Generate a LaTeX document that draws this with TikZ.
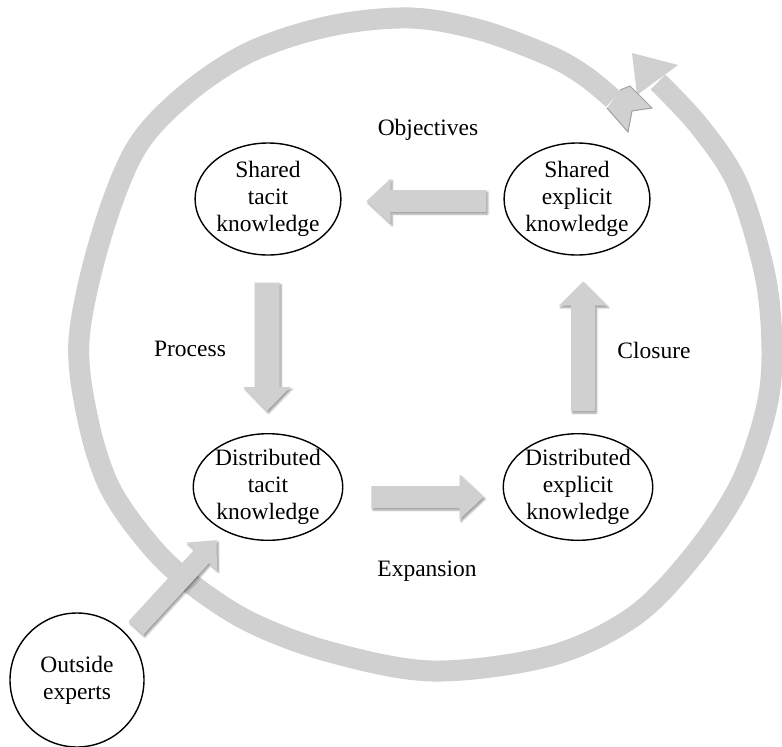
\documentclass[tikz,border=0pt]{standalone}
\usepackage{fontspec}
\setmainfont{Liberation Serif}
\usetikzlibrary{calc,shapes.geometric,shadows.blur}
\definecolor{bandgray}{RGB}{208,208,208}
\definecolor{tailedge}{RGB}{160,160,160}
\tikzset{
  knode/.style={ellipse, draw, line width=1.4pt, fill=white, align=center, inner sep=0pt,
     minimum width=138pt, minimum height=112pt, font=\fontsize{23.5}{27}\selectfont},
  onode/.style={circle, draw, line width=1.4pt, fill=white, align=center, inner sep=0pt,
     minimum size=134pt, font=\fontsize{23.5}{27}\selectfont},
  lbl/.style={font=\fontsize{23.5}{27}\selectfont, inner sep=0pt},
  arrowfill/.style={fill=bandgray, blur shadow={shadow xshift=1.5pt, shadow yshift=-2pt, shadow blur steps=6, shadow opacity=40}},
  band/.style={draw=bandgray, line width=21pt, line join=round},
}
\newcommand{\fatarrow}[5]{%
  \path (#1) coordinate (fa-a) (#2) coordinate (fa-b);
  \path ($(fa-b)!#5!(fa-a)$) coordinate (fa-h);
  \fill[arrowfill] ($(fa-a)!#3!90:(fa-b)$) -- ($(fa-h)!#3!90:(fa-b)$) -- ($(fa-h)!#4!90:(fa-b)$)
    -- (fa-b) -- ($(fa-h)!#4!-90:(fa-b)$) -- ($(fa-h)!#3!-90:(fa-b)$) -- ($(fa-a)!#3!-90:(fa-b)$) -- cycle;
}
\begin{document}
\begin{tikzpicture}[x=1pt,y=-1pt]
\useasboundingbox (0,0) rectangle (782,747);
% big loop
\draw[band] plot[smooth, tension=0.55] coordinates {
 (613,99) (585,76) (550,56) (480,30) (410,18) (330,26) (250,52) (185,95) (135,150)
 (100,240) (79,340) (88,420) (110,488) (150,545) (190,583) (250,622) (330,652)
 (433,671) (550,656) (633,617) (693,556) (740,485) (766,410) (772,350) (765,275)
 (738,185) (700,127) (658,82)};
% loop head
\fill[bandgray] (632,53) -- (678,65) -- (637,95) -- cycle;
% notched tail
\fill[bandgray] (620,90) -- (630,86) -- (652,108) -- (632,111) -- (628,132) -- (607,108) -- cycle;
\draw[tailedge, line width=1pt, line join=miter] (620,90) -- (630,86) -- (652,108) -- (632,111) -- (628,132) -- (607,108);

% nodes
\node[knode] (st) at (268,199) {Shared\\tacit\\knowledge};
\node[knode] (se) at (577,199) {Shared\\explicit\\knowledge};
\node[knode, minimum width=134pt, minimum height=106pt] (dt) at (268,487) {Distributed\\tacit\\knowledge};
\node[knode, minimum width=134pt, minimum height=106pt] (de) at (578,487) {Distributed\\explicit\\knowledge};
\node[onode] (oe) at (77,680) {Outside\\experts};

% labels
\node[lbl] (obj) at (428,130) {Objectives};
\node[lbl] (pro) at (190,349) {Process};
\node[lbl] (clo) at (654,350) {Closure};
\node[lbl] (exp) at (427,571) {Expansion};

% connector end points
\coordinate (a1) at ($(se.west)+(-17,2)$);
\coordinate (b1) at ($(st.east)+(25,2)$);
\coordinate (a2) at ($(st.south)+(-1,27)$);
\coordinate (b2) at ($(dt.north)+(-1,-22)$);
\coordinate (a3) at ($(dt.east)+(28,10)$);
\coordinate (b3) at ($(de.west)+(-19,10)$);
\coordinate (a4) at ($(de.north)+(5,-22)$);
\coordinate (b4) at ($(se.south)+(6,26)$);
\coordinate (a5) at ($(oe.north east)+(11,-4)$);
\coordinate (b5) at ($(dt.south west)+(2,15)$);

\fatarrow{a1}{b1}{11pt}{22.5pt}{24pt}
\fatarrow{a2}{b2}{12.5pt}{23.5pt}{24pt}
\fatarrow{a3}{b3}{11pt}{22.5pt}{24pt}
\fatarrow{a4}{b4}{12pt}{24pt}{24pt}
\fatarrow{a5}{b5}{10pt}{20.5pt}{22pt}
\end{tikzpicture}
\end{document}
